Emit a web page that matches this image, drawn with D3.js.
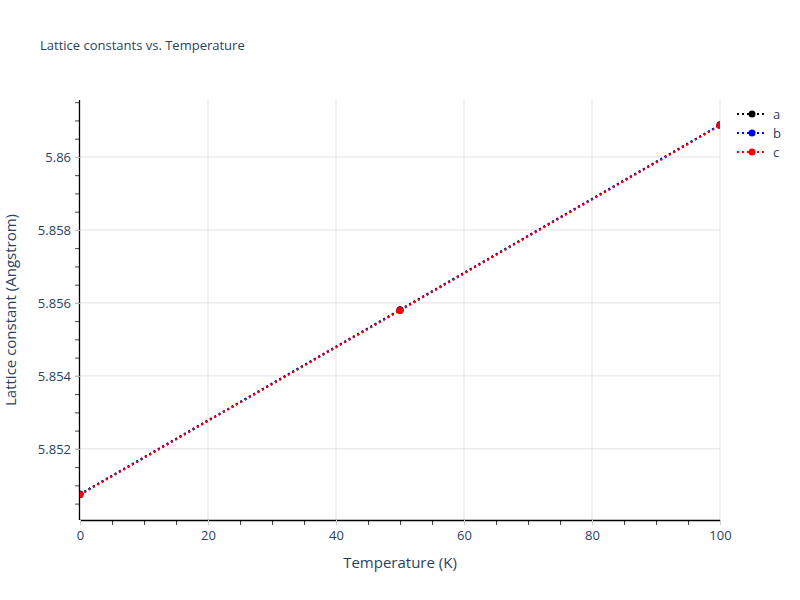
<!DOCTYPE html>
<html>
<head>
<meta charset="utf-8">
<script src="https://cdn.jsdelivr.net/npm/d3@7"></script>
<style>
    body { margin: 0; background: #fff; }
    text { font-family: "Open Sans", verdana, arial, sans-serif; }
</style>
</head>
<body>
<svg id="chart" width="800" height="600"></svg>
<script>
    // data
    var temperatures = [0, 50, 100];
    var latticeA = [5.85076, 5.85581, 5.86088];
    var latticeB = [5.85075, 5.85580, 5.86087];
    var latticeC = [5.85074, 5.85579, 5.86086];
    var seriesNames = ["a", "b", "c"];
    var seriesColors = ["black", "blue", "red"];
    var xTicks = [0, 20, 40, 60, 80, 100];
    var yTicks = [5.852, 5.854, 5.856, 5.858, 5.86];

    var margin = {left: 80, right: 80, top: 100, bottom: 80},
        width = 800 - margin.left - margin.right,
        height = 600 - margin.top - margin.bottom,
        textColor = "#2a3f5f",
        gridColor = "#e1e1e1";

    var svg = d3.select("#chart");
    var x = d3.scaleLinear().domain([0, 100]).range([0, width]);
    var y = d3.scaleLinear().domain([5.85005, 5.86156]).range([height, 0]);

    var g = svg.append("g").attr("transform", "translate(" + margin.left + "," + margin.top + ")");

    g.append("clipPath").attr("id", "plotClip")
        .append("rect").attr("width", width).attr("height", height);

    // grid
    g.append("g").selectAll("line").data(xTicks.slice(1)).enter().append("line")
        .attr("x1", function (d) { return x(d); }).attr("x2", function (d) { return x(d); })
        .attr("y1", 0).attr("y2", height)
        .attr("stroke", gridColor).attr("stroke-width", 1);
    g.append("g").selectAll("line").data(yTicks).enter().append("line")
        .attr("x1", 0).attr("x2", width)
        .attr("y1", function (d) { return y(d); }).attr("y2", function (d) { return y(d); })
        .attr("stroke", gridColor).attr("stroke-width", 1);

    // minor ticks
    var xMinor = d3.range(0, 101, 5),
        yMinor = d3.range(5.8505, 5.8615, 0.0005);
    g.append("g").attr("transform", "translate(0," + height + ")")
        .call(d3.axisBottom(x).tickValues(xMinor).tickSize(5).tickFormat(""))
        .call(function (s) {
            s.select(".domain").remove();
            s.selectAll("line").attr("stroke", "#444");
        });
    g.append("g")
        .call(d3.axisLeft(y).tickValues(yMinor).tickSize(5).tickFormat(""))
        .call(function (s) {
            s.select(".domain").remove();
            s.selectAll("line").attr("stroke", "#444");
        });

    // major axes
    var xAxis = g.append("g").attr("transform", "translate(0," + height + ")")
        .call(d3.axisBottom(x).tickValues(xTicks).tickSize(5).tickPadding(6).tickFormat(d3.format("d")));
    var yAxis = g.append("g")
        .call(d3.axisLeft(y).tickValues(yTicks).tickSize(5).tickPadding(4).tickFormat(d3.format("~g")));
    [xAxis, yAxis].forEach(function (a) {
        a.select(".domain").attr("stroke", "#000").attr("stroke-width", 1.3);
        a.selectAll(".tick line").attr("stroke", "#ccc");
        a.selectAll(".tick text").attr("fill", textColor).attr("font-size", 13)
            .style("font-family", "'Open Sans', verdana, arial, sans-serif");
    });
    xAxis.select(".domain").attr("d", "M0,0.5H" + width);
    yAxis.select(".domain").attr("d", "M-0.5," + height + "V0");

    // series
    var series = [latticeA, latticeB, latticeC].map(function (vals, i) {
        return {
            name: seriesNames[i],
            color: seriesColors[i],
            points: temperatures.map(function (t, j) { return {t: t, v: vals[j]}; })
        };
    });

    var line = d3.line().x(function (d) { return x(d.t); }).y(function (d) { return y(d.v); });
    var plot = g.append("g").attr("clip-path", "url(#plotClip)");
    series.forEach(function (s) {
        var sg = plot.append("g");
        sg.append("path").datum(s.points).attr("d", line)
            .attr("fill", "none").attr("stroke", s.color)
            .attr("stroke-width", 2).attr("stroke-dasharray", "2,3");
        sg.selectAll("circle").data(s.points).enter().append("circle")
            .attr("cx", function (d) { return x(d.t); })
            .attr("cy", function (d) { return y(d.v); })
            .attr("r", 3.5).attr("fill", s.color);
    });

    // title
    svg.append("text").attr("x", 40).attr("y", 50)
        .attr("fill", textColor).attr("font-size", 13)
        .text("Lattice constants vs. Temperature");

    // axis titles
    svg.append("text").attr("x", margin.left + width / 2).attr("y", 568)
        .attr("text-anchor", "middle").attr("fill", textColor).attr("font-size", 15)
        .text("Temperature (K)");
    svg.append("text")
        .attr("transform", "translate(16," + (margin.top + height / 2) + ") rotate(-90)")
        .attr("text-anchor", "middle").attr("fill", textColor).attr("font-size", 15)
        .text("Lattice constant (Angstrom)");

    // legend
    var legend = svg.append("g").attr("transform", "translate(737,114)");
    series.forEach(function (s, i) {
        var item = legend.append("g").attr("transform", "translate(0," + (i * 19) + ")");
        item.append("line").attr("x1", 0).attr("x2", 30).attr("y1", 0).attr("y2", 0)
            .attr("stroke", s.color).attr("stroke-width", 2).attr("stroke-dasharray", "2,3");
        item.append("circle").attr("cx", 15).attr("cy", 0).attr("r", 3.5).attr("fill", s.color);
        item.append("text").attr("x", 36).attr("y", 4.5)
            .attr("fill", textColor).attr("font-size", 13).text(s.name);
    });
</script>
</body>
</html>
